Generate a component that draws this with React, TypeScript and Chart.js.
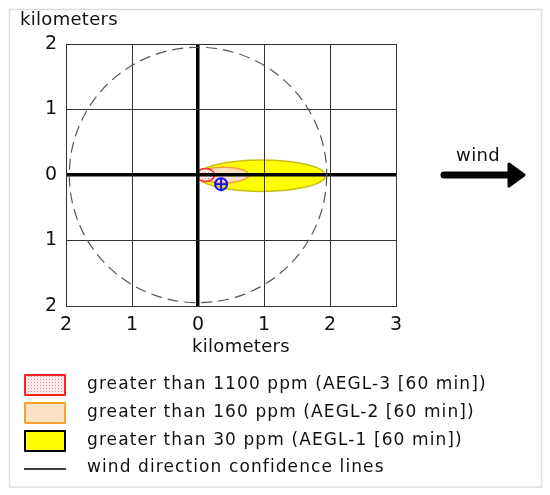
import { useEffect, useRef } from "react";
import { Chart, registerables } from "chart.js";

Chart.register(...registerables);

const FONT = "'DejaVu Sans', Verdana, sans-serif";

const xTicks = [-2, -1, 0, 1, 2, 3];
const yTicks = [-2, -1, 0, 1, 2];
const axisTitle = "kilometers";

const zoneLabels = [
  "greater than 1100 ppm (AEGL-3 [60 min])",
  "greater than 160 ppm (AEGL-2 [60 min])",
  "greater than 30 ppm (AEGL-1 [60 min])",
];
const zoneStartKm = [-0.02, 0.0, 0.0];
const zoneEndKm = [0.25, 0.77, 1.93];
const zoneHalfWidthKm = [0.1, 0.12, 0.24];
const zoneCenterYKm = [0.0, 0.0, -0.01];
const zoneFill = ["pattern", "#fddfc2", "#ffff00"];
const zoneStroke = ["#ff2a2a", "#f5a040", "#c9bd1a"];
const legendStroke = ["#ff2020", "#f7a030", "#000000"];
const legendFill = ["pattern", "#fde2c6", "#ffff00"];

const confidenceRadiusKm = 1.95;
const confidenceLabel = "wind direction confidence lines";
const sourceX = [0.35];
const sourceY = [-0.14];
const windLabel = "wind";

function makePattern(ctx: CanvasRenderingContext2D) {
  const c = document.createElement("canvas");
  c.width = 3;
  c.height = 3;
  const p = c.getContext("2d")!;
  p.fillStyle = "#fdeaea";
  p.fillRect(0, 0, 3, 3);
  p.fillStyle = "#f08a8a";
  p.fillRect(1, 1, 1, 1);
  return ctx.createPattern(c, "repeat")!;
}

const zonesPlugin = {
  id: "zones",
  beforeDraw(chart: any) {
    const ctx: CanvasRenderingContext2D = chart.ctx;
    const xs = chart.scales.x;
    const ys = chart.scales.y;
    ctx.save();
    ctx.fillStyle = "#ffffff";
    ctx.fillRect(0, 0, chart.width, chart.height);
    // outer frame
    ctx.strokeStyle = "#dcdcdc";
    ctx.lineWidth = 1.5;
    ctx.strokeRect(9.5, 9.5, 532, 477.5);
    const pat = makePattern(ctx);
    for (let i = zoneLabels.length - 1; i >= 0; i--) {
      const x0 = xs.getPixelForValue(zoneStartKm[i]);
      const x1 = xs.getPixelForValue(zoneEndKm[i]);
      const yc = ys.getPixelForValue(zoneCenterYKm[i]);
      const ry = Math.abs(ys.getPixelForValue(zoneHalfWidthKm[i]) - ys.getPixelForValue(0));
      ctx.beginPath();
      ctx.ellipse((x0 + x1) / 2, yc, (x1 - x0) / 2, ry, 0, 0, Math.PI * 2);
      ctx.fillStyle = zoneFill[i] === "pattern" ? pat : zoneFill[i];
      ctx.fill();
      ctx.lineWidth = 1.5;
      ctx.strokeStyle = zoneStroke[i];
      ctx.stroke();
    }
    ctx.restore();
  },
  afterDraw(chart: any) {
    const ctx: CanvasRenderingContext2D = chart.ctx;
    const xs = chart.scales.x;
    const ys = chart.scales.y;
    ctx.save();
    // confidence circle
    const cx = xs.getPixelForValue(0);
    const cy = ys.getPixelForValue(0);
    const rx = xs.getPixelForValue(confidenceRadiusKm) - cx;
    const ry = cy - ys.getPixelForValue(confidenceRadiusKm);
    ctx.beginPath();
    ctx.setLineDash([11, 6]);
    ctx.strokeStyle = "#555555";
    ctx.lineWidth = 1.2;
    ctx.ellipse(cx, cy, rx, ry, 0, 0, Math.PI * 2);
    ctx.stroke();
    ctx.setLineDash([]);

    // titles
    ctx.fillStyle = "#111111";
    ctx.font = `18px ${FONT}`;
    (ctx as any).letterSpacing = "0.3px";
    ctx.textBaseline = "alphabetic";
    ctx.textAlign = "left";
    ctx.fillText(axisTitle, 20, 25);
    ctx.textAlign = "center";
    ctx.fillText(axisTitle, 241, 352);

    // wind arrow
    ctx.fillText(windLabel, 478, 161);
    ctx.strokeStyle = "#000";
    ctx.lineWidth = 7;
    ctx.lineCap = "round";
    ctx.beginPath();
    ctx.moveTo(444, 175);
    ctx.lineTo(512, 175);
    ctx.stroke();
    ctx.lineJoin = "round";
    ctx.lineWidth = 3;
    ctx.fillStyle = "#000";
    ctx.beginPath();
    ctx.moveTo(509, 164);
    ctx.lineTo(524, 175);
    ctx.lineTo(509, 186);
    ctx.closePath();
    ctx.fill();
    ctx.stroke();

    // legend
    const pat = makePattern(ctx);
    const rows = [385, 413, 441, 468];
    ctx.font = `17px ${FONT}`;
    (ctx as any).letterSpacing = "1.1px";
    ctx.textAlign = "left";
    ctx.textBaseline = "middle";
    for (let i = 0; i < zoneLabels.length; i++) {
      const top = rows[i] - 10;
      ctx.fillStyle = legendFill[i] === "pattern" ? pat : legendFill[i];
      ctx.fillRect(25, top, 40, 20);
      ctx.lineWidth = 2;
      ctx.strokeStyle = legendStroke[i];
      ctx.strokeRect(25, top, 40, 20);
      ctx.fillStyle = "#111";
      ctx.fillText(zoneLabels[i], 87, rows[i]);
    }
    ctx.strokeStyle = "#000";
    ctx.lineWidth = 1.5;
    ctx.lineCap = "butt";
    ctx.beginPath();
    ctx.moveTo(24, rows[3] + 1);
    ctx.lineTo(66, rows[3] + 1);
    ctx.stroke();
    ctx.fillStyle = "#111";
    ctx.fillText(confidenceLabel, 87, rows[3]);
    ctx.restore();
  },
};

export default function App() {
  const ref = useRef<HTMLCanvasElement>(null);
  useEffect(() => {
    const gridWidth = (c: any) => (c.tick && c.tick.value === 0 ? 3.5 : 1);
    const gridColor = (c: any) => (c.tick && c.tick.value === 0 ? "#000" : "#333");
    const chart = new Chart(ref.current!, {
      type: "scatter",
      data: {
        datasets: [
          {
            data: sourceX.map((x, i) => ({ x, y: sourceY[i] })),
            pointStyle: "circle",
            pointRadius: 6,
            borderColor: "#1010ff",
            backgroundColor: "rgba(0,0,0,0)",
            borderWidth: 2,
          },
          {
            data: sourceX.map((x, i) => ({ x, y: sourceY[i] })),
            pointStyle: "cross",
            pointRadius: 6,
            borderColor: "#1010ff",
            borderWidth: 2,
          },
        ],
      },
      options: {
        responsive: false,
        animation: false,
        events: [],
        layout: { padding: { left: 0, top: 44, right: 154, bottom: 0 } },
        plugins: { legend: { display: false }, tooltip: { enabled: false } },
        scales: {
          x: {
            type: "linear",
            min: -2,
            max: 3,
            afterFit: (s: any) => {
              s.height = 189;
            },
            afterBuildTicks: (s: any) => {
              s.ticks = xTicks.map((v) => ({ value: v }));
            },
            ticks: {
              padding: 8,
              color: "#111",
              font: { family: FONT, size: 19 },
              callback: (v: any) => String(Math.abs(Number(v))),
            },
            grid: { color: gridColor, lineWidth: gridWidth, drawTicks: false },
            border: { display: true, color: "#333", width: 1 },
          },
          y: {
            type: "linear",
            min: -2,
            max: 2,
            afterFit: (s: any) => {
              s.width = 66;
            },
            afterBuildTicks: (s: any) => {
              s.ticks = yTicks.map((v) => ({ value: v }));
            },
            ticks: {
              padding: 9,
              color: "#111",
              font: { family: FONT, size: 19 },
              callback: (v: any) => String(Math.abs(Number(v))),
            },
            grid: { color: gridColor, lineWidth: gridWidth, drawTicks: false },
            border: { display: true, color: "#333", width: 1 },
          },
        },
      },
      plugins: [zonesPlugin],
    } as any);
    return () => chart.destroy();
  }, []);
  return (
    <div style={{ position: "absolute", left: 0, top: 0, width: 550, height: 495 }}>
      <canvas ref={ref} width={550} height={495} />
    </div>
  );
}
